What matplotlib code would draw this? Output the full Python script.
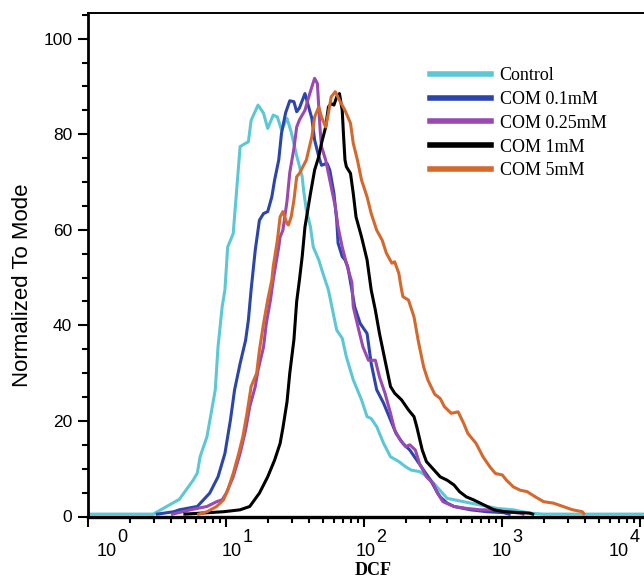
import numpy as np
import matplotlib
matplotlib.use("Agg")
import matplotlib.pyplot as plt
from matplotlib.ticker import LogLocator, NullFormatter, MultipleLocator

plt.rcParams['font.family'] = ['Liberation Sans', 'DejaVu Sans']

# histogram traces: log10(DCF) and % of mode
control_logx = [0.0, 0.47, 0.66, 0.76, 0.79, 0.81, 0.86, 0.89, 0.92, 0.94, 0.97, 0.99,
                1.01, 1.05, 1.10, 1.14, 1.16, 1.18, 1.23, 1.27, 1.30, 1.34, 1.37, 1.40,
                1.44, 1.47, 1.51, 1.55, 1.56, 1.58, 1.61, 1.63, 1.67, 1.70, 1.74, 1.76,
                1.80, 1.84, 1.87, 1.92, 1.98, 2.02, 2.05, 2.09, 2.14, 2.19, 2.25, 2.30,
                2.34, 2.40, 2.46, 2.52, 2.60, 2.72, 2.84, 2.96, 3.08, 3.20, 3.30, 4.2]
control_y = [0.5, 0.5, 3.6, 7.6, 9.1, 12.5, 16.7, 21.6, 26.5, 35.5, 43.9, 47.4,
             56.4, 59.2, 77.4, 78.1, 78.4, 82.9, 86.1, 84.4, 81.2, 84.0, 83.6, 80.9,
             83.3, 80.5, 75.5, 71.1, 68.3, 64.1, 60.6, 56.4, 53.7, 50.9, 47.4, 44.6,
             39.0, 37.3, 33.4, 28.6, 24.4, 20.9, 20.5, 18.8, 15.3, 12.5, 11.5, 10.4,
             9.7, 9.4, 8.3, 6.4, 3.8, 3.1, 2.4, 1.7, 1.4, 0.7, 0.5, 0.5]

com01_logx = [0.50, 0.62, 0.66, 0.79, 0.88, 0.94, 0.99, 1.03, 1.06, 1.10, 1.14, 1.16,
              1.18, 1.21, 1.24, 1.27, 1.30, 1.33, 1.35, 1.38, 1.40, 1.43, 1.46, 1.49,
              1.51, 1.53, 1.57, 1.59, 1.62, 1.64, 1.67, 1.69, 1.73, 1.75, 1.78, 1.80,
              1.81, 1.84, 1.86, 1.88, 1.91, 1.93, 1.97, 2.02, 2.05, 2.09, 2.14, 2.19,
              2.23, 2.28, 2.33, 2.38, 2.43, 2.48, 2.52, 2.55, 2.60, 2.65, 2.77, 2.89,
              3.01, 3.05]
com01_y = [0.5, 1.0, 1.4, 2.1, 4.9, 8.3, 13.2, 20.2, 26.5, 32.0, 36.9, 41.1,
           47.5, 55.8, 62.0, 63.4, 63.8, 66.9, 70.4, 74.6, 80.2, 84.5, 87.0, 86.8,
           84.7, 85.5, 88.5, 86.4, 83.3, 78.8, 75.3, 73.5, 73.9, 72.5, 67.6, 62.0,
           57.2, 54.4, 53.7, 52.3, 47.4, 43.9, 40.4, 38.3, 32.0, 26.5, 23.7, 20.2,
           17.4, 15.3, 13.9, 11.8, 9.7, 7.6, 5.5, 4.1, 2.8, 2.1, 1.4, 1.0,
           0.8, 0.5]

com025_logx = [0.61, 0.64, 0.74, 0.86, 0.93, 0.97, 1.00, 1.05, 1.10, 1.14, 1.17, 1.21,
               1.23, 1.27, 1.29, 1.32, 1.34, 1.38, 1.39, 1.41, 1.44, 1.46, 1.49, 1.51,
               1.53, 1.57, 1.59, 1.62, 1.64, 1.66, 1.67, 1.68, 1.69, 1.72, 1.74, 1.76,
               1.79, 1.81, 1.84, 1.87, 1.91, 1.92, 1.96, 1.99, 2.03, 2.08, 2.11, 2.15,
               2.19, 2.22, 2.26, 2.30, 2.33, 2.37, 2.40, 2.45, 2.50, 2.53, 2.57, 2.65,
               2.74, 2.84, 2.94, 3.03, 3.13, 3.15]
com025_y = [0.5, 0.7, 1.4, 2.1, 3.1, 3.5, 4.9, 8.3, 13.2, 18.1, 23.0, 27.2,
            30.6, 35.5, 40.4, 45.3, 49.5, 56.4, 58.5, 59.9, 66.0, 72.0, 77.0, 81.5,
            83.0, 85.0, 87.1, 89.9, 91.7, 90.6, 85.7, 80.9, 77.4, 74.6, 71.8, 69.0,
            64.8, 60.6, 56.4, 53.0, 49.0, 43.9, 39.0, 35.5, 32.7, 32.7, 29.2, 25.8,
            21.6, 18.1, 16.0, 14.6, 15.0, 13.9, 11.1, 8.3, 6.9, 4.9, 3.1, 2.1,
            1.7, 1.4, 1.4, 1.0, 0.7, 0.5]

com1_logx = [0.70, 0.98, 1.10, 1.17, 1.24, 1.30, 1.35, 1.39, 1.41, 1.44, 1.46, 1.49,
             1.51, 1.53, 1.55, 1.57, 1.61, 1.64, 1.67, 1.69, 1.72, 1.74, 1.76, 1.78,
             1.80, 1.82, 1.84, 1.85, 1.86, 1.87, 1.90, 1.92, 1.94, 1.98, 2.02, 2.05,
             2.08, 2.11, 2.15, 2.19, 2.22, 2.27, 2.32, 2.36, 2.38, 2.42, 2.45, 2.50,
             2.55, 2.60, 2.65, 2.69, 2.74, 2.79, 2.84, 2.89, 2.94, 3.01, 3.20, 3.22]
com1_y = [0.5, 1.0, 1.4, 2.1, 4.9, 8.3, 11.8, 15.3, 18.5, 24.0, 30.0, 37.0,
          45.0, 49.5, 54.4, 60.6, 67.6, 72.5, 75.3, 78.1, 81.5, 85.7, 86.4, 86.1,
          87.8, 88.5, 85.0, 79.5, 74.6, 73.2, 71.8, 67.6, 62.7, 58.5, 53.7, 47.4,
          43.2, 38.3, 32.7, 27.2, 25.8, 24.4, 22.3, 20.9, 18.8, 13.9, 11.5, 9.9,
          8.3, 7.6, 6.6, 5.2, 4.1, 3.5, 2.8, 2.1, 1.4, 1.0, 0.7, 0.5]

com5_logx = [0.80, 0.86, 0.93, 0.98, 1.01, 1.05, 1.09, 1.12, 1.15, 1.18, 1.22, 1.24,
             1.27, 1.30, 1.33, 1.34, 1.37, 1.39, 1.41, 1.44, 1.45, 1.47, 1.49, 1.51,
             1.53, 1.58, 1.62, 1.64, 1.67, 1.69, 1.72, 1.74, 1.76, 1.79, 1.82, 1.86,
             1.90, 1.92, 1.95, 1.98, 2.02, 2.05, 2.09, 2.13, 2.16, 2.20, 2.22, 2.25,
             2.27, 2.28, 2.32, 2.36, 2.39, 2.43, 2.46, 2.51, 2.55, 2.58, 2.63, 2.68,
             2.72, 2.75, 2.81, 2.86, 2.91, 2.95, 3.00, 3.03, 3.08, 3.13, 3.18, 3.24,
             3.30, 3.37, 3.44, 3.51, 3.58, 3.59]
com5_y = [0.5, 1.0, 2.1, 3.5, 5.5, 9.0, 13.2, 16.7, 21.6, 27.2, 30.0, 34.8,
          40.4, 45.3, 49.5, 52.3, 57.8, 62.7, 63.8, 61.3, 61.0, 62.7, 66.2, 71.1,
          71.8, 74.6, 79.5, 83.6, 85.7, 83.6, 81.5, 84.4, 87.8, 88.9, 87.1, 85.0,
          82.3, 78.1, 74.6, 70.4, 66.9, 63.4, 59.9, 57.8, 55.1, 53.0, 53.3, 50.9,
          47.4, 46.0, 45.3, 41.8, 36.9, 31.3, 28.6, 25.6, 24.7, 23.0, 21.6, 21.9,
          19.5, 17.4, 15.3, 12.5, 10.4, 9.0, 8.7, 7.6, 6.2, 5.5, 5.2, 4.1,
          3.1, 2.8, 2.1, 1.4, 1.0, 0.6]

labels = ['Control', 'COM 0.1mM', 'COM 0.25mM', 'COM 1mM', 'COM 5mM']
colors = ['#5cc8d6', '#2b45ad', '#9a48b2', '#000000', '#d5692d']
series = [(control_logx, control_y), (com01_logx, com01_y), (com025_logx, com025_y),
          (com1_logx, com1_y), (com5_logx, com5_y)]

decades = [0, 1, 2, 3, 4]
label_dx = [8, -5, -9, -11, -32]  # pixel nudges of the decade labels

W, H = 644, 579
fig = plt.figure(figsize=(W / 100, H / 100), dpi=100)
ax = fig.add_axes([88.3 / W, 1 - 516.5 / H, 1 - 88.3 / W, (516.5 - 13.3) / H])

for (lx, yv), c, lab in zip(series, colors, labels):
    ax.plot(10 ** np.array(lx), yv, color=c, lw=2.2, label=lab, solid_joinstyle='round')

ax.set_xscale('log')
ax.set_xlim(1, 10 ** ((W - 88.3) / 138))
ax.set_ylim(0, 105.3)

ax.spines['right'].set_visible(False)
ax.spines['left'].set_linewidth(2.0)
ax.spines['bottom'].set_linewidth(2.4)
ax.spines['top'].set_linewidth(1.4)

ax.xaxis.set_major_locator(LogLocator(base=10, numticks=10))
ax.xaxis.set_minor_locator(LogLocator(base=10, subs=np.arange(2, 10), numticks=20))
ax.xaxis.set_major_formatter(NullFormatter())
ax.xaxis.set_minor_formatter(NullFormatter())
ax.yaxis.set_major_locator(MultipleLocator(20))
ax.yaxis.set_minor_locator(MultipleLocator(5))

ax.tick_params(axis='both', which='major', direction='out', length=7.5, width=1.5,
               labelsize=12.5, pad=4)
ax.tick_params(axis='both', which='minor', direction='out', length=4.5, width=1.5)

# decade labels: full-size exponent, raised like the original
for k, dx in zip(decades, label_dx):
    ax.annotate('10', xy=(10 ** k, 0), xycoords=('data', 'axes fraction'),
                xytext=(dx, -39), textcoords='offset pixels', ha='left', va='baseline',
                fontsize=13, annotation_clip=False)
    ax.annotate(str(k), xy=(10 ** k, 0), xycoords=('data', 'axes fraction'),
                xytext=(dx + 21, -26), textcoords='offset pixels', ha='left',
                va='baseline', fontsize=13, annotation_clip=False)

fig.text(22.6 / W, 1 - 285 / H, 'Normalized To Mode', rotation=90, fontsize=16,
         ha='center', va='center')
fig.text(373 / W, 4 / H, 'DCF', fontsize=13, fontweight='bold',
         family='Liberation Serif', ha='center', va='baseline')

leg = ax.legend(loc='upper left', bbox_to_anchor=(430 / W, 1 - 67 / H),
                bbox_transform=fig.transFigure, frameon=False,
                prop={'family': 'Liberation Serif', 'size': 13},
                handlelength=3.4, handletextpad=0.45, labelspacing=0.38,
                borderpad=0, borderaxespad=0)
for line in leg.get_lines():
    line.set_linewidth(4)

fig.savefig('out.png', dpi=100)
